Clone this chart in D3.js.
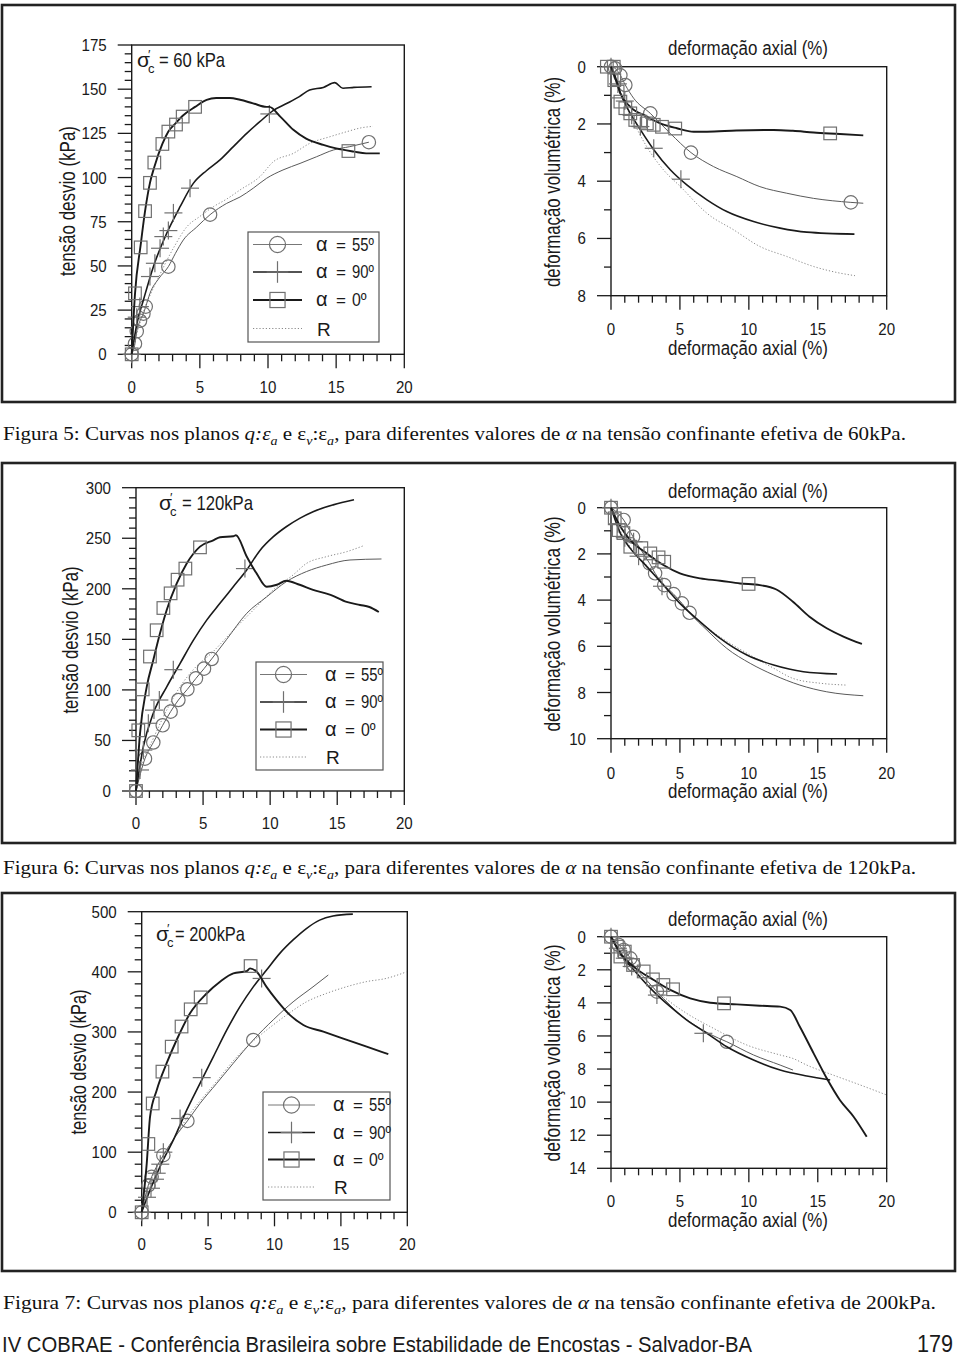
<!DOCTYPE html>
<html><head><meta charset="utf-8">
<script src="https://cdn.jsdelivr.net/npm/d3@7"></script>
<style>body{margin:0;background:#fff}svg{display:block}</style>
</head><body>
<script>
// ---------------- DATA ----------------
const xTickLabels = [0, 5, 10, 15, 20];
const legendLabels = ["55º", "90º", "0º"];
const sigmaLabels = ["= 60 kPa", "= 120kPa", "= 200kPa"];
const figNumbers = ["5", "6", "7"];
const captionPressures = ["60kPa.", "120kPa.", "200kPa."];

// Figure 5 – q : εa
const f5q_a0 = [[0,0],[0.24,34],[0.66,62],[0.98,81],[1.34,97],[1.66,106],[2.25,119],[2.69,126],[3.25,131],[3.74,135],[4.65,140],[5.5,144],[6.2,145],[7.2,145],[7.95,144],[8.9,142],[9.9,140],[10.1,140],[10.9,134.5],[11.86,127],[12.8,122],[14.06,118.5],[15.0,116.5],[16.3,114.7],[17.2,113.7],[18.2,113.7]];
const f5q_a0_mk = [[0,0],[0.24,34.5],[0.66,60.5],[0.98,81],[1.34,97],[1.66,108.5],[2.25,119],[2.69,126],[3.25,130],[3.74,134.5],[4.65,140],[15.9,115]];
const f5q_a90 = [[0,0],[0.4,18],[0.86,30.7],[1.59,49.6],[2.57,68.5],[3.55,83.5],[4.52,96.7],[5.5,104],[6.48,110],[7.46,117.5],[8.44,125],[9.4,131.6],[10.4,138],[11.4,142],[12.3,145.8],[13.05,149.5],[14.06,151],[14.9,153.7],[15.5,150.5],[16.3,151],[17.6,151.4]];
const f5q_a90_mk = [[0,0],[0.37,21],[0.6,27],[1.34,44],[1.7,51.5],[2.08,60],[2.32,66.6],[2.69,70],[3.06,80],[4.28,94],[10.1,136]];
const f5q_a55 = [[0,0],[0.24,6],[0.37,13],[0.61,19],[0.86,23],[1.03,27],[1.34,34.5],[2.0,43],[2.69,49.6],[3.2,57],[3.79,64.7],[4.77,72],[5.75,79],[6.97,85.4],[7.95,89],[8.92,94],[9.9,99.6],[11.1,104.3],[12.35,108],[13.57,111.8],[14.8,115.6],[16.0,117.5],[17.4,120]];
const f5q_a55_mk = [[0,0],[0.24,6],[0.37,13],[0.61,19],[0.86,23],[1.03,27],[2.69,49.6],[5.75,79],[17.4,120]];
const f5q_R = [[0,0],[0.5,15],[1.0,27],[1.5,36],[2.0,44],[2.57,53],[3.2,62],[4.03,72],[5.0,78],[5.99,83.5],[7.0,88],[7.95,93],[9.4,100.5],[10.4,109],[11.86,113.7],[13.08,119.4],[14.5,123],[15.8,126],[16.75,128],[17.7,129]];

// Figure 5 – εv : εa
const f5v_a0 = [[0,0],[0.3,0.35],[0.68,0.93],[1.4,1.4],[2.6,1.74],[3.57,1.98],[4.78,2.15],[6.0,2.27],[6.96,2.27],[9.1,2.23],[11.8,2.21],[13.2,2.24],[14.7,2.3],[16.6,2.35],[18.3,2.4]];
const f5v_a0_mk = [[-0.3,0],[0.2,0],[0.24,0.47],[0.48,0.87],[0.68,1.22],[1.04,1.45],[1.4,1.63],[1.76,1.86],[2.13,1.92],[2.6,1.98],[3.1,2.03],[3.7,2.1],[4.66,2.16],[15.9,2.33]];
const f5v_a55 = [[0,0],[0.3,0.06],[0.68,0.3],[1.04,0.64],[1.64,1.1],[2.85,1.63],[4.3,2.33],[5.8,3.0],[7.44,3.49],[9.13,3.84],[10.8,4.19],[12.75,4.42],[14.7,4.6],[17.4,4.74],[18.3,4.77]];
const f5v_a55_mk = [[0,0],[0.3,0.06],[0.68,0.3],[1.04,0.64],[2.85,1.63],[5.8,3.0],[17.4,4.74]];
const f5v_a90 = [[0,0],[0.3,0.4],[0.68,0.93],[1.4,1.63],[2.13,2.2],[3.1,2.9],[4.3,3.6],[5.5,4.13],[6.96,4.65],[8.4,5.06],[10.34,5.41],[12.27,5.64],[14.2,5.78],[17.66,5.85]];
const f5v_a90_mk = [[0,0],[0.5,0.6],[1.0,1.2],[1.5,1.7],[2.13,2.09],[3.1,2.85],[5.07,3.93]];
const f5v_R = [[0,0],[0.68,0.95],[1.4,1.7],[2.6,2.8],[3.8,3.6],[5.27,4.3],[5.5,4.42],[6.96,5.12],[8.9,5.7],[10.8,6.28],[12.75,6.63],[14.7,6.98],[16.6,7.21],[17.7,7.3]];

// Figure 6 – q : εa
const f6q_a0 = [[0,0],[0.3,57],[0.8,103],[1.29,129.6],[1.79,156],[2.29,179],[3.03,205],[3.78,225],[4.77,241.7],[5.76,248],[6.26,251],[7.25,252],[7.45,253],[8.25,232],[9.0,215],[9.74,202],[10.5,204],[11.2,208],[12.2,204],[13.2,199],[14.5,194],[15.7,187],[16.7,184],[17.4,182],[18.1,177]];
const f6q_a0_mk = [[0,0],[0.17,60],[0.5,100.5],[1.04,133],[1.54,159],[2.04,181],[2.58,195.5],[3.1,209],[3.68,220],[4.77,241]];
const f6q_a90 = [[0,0],[0.55,44],[1.29,77],[2.29,103],[3.28,126],[4.27,149],[5.27,169],[6.26,185.6],[7.25,202],[8.25,218.6],[9.24,238],[10.24,251.6],[11.2,261.4],[12.2,269.7],[13.2,276.3],[14.7,283],[16.25,288]];
const f6q_a90_mk = [[0,0],[0.3,20.8],[0.55,40.5],[0.92,67],[1.34,80],[1.74,90],[2.78,120],[8.12,220]];
const f6q_a55 = [[0,0],[0.67,32],[1.29,48],[1.99,65],[2.58,78.5],[3.16,90],[3.83,100.6],[4.47,111.4],[5.07,121],[5.64,130.6],[6.76,150],[8.25,175.7],[9.74,192],[11.2,207],[12.7,217],[14.2,223.5],[15.95,228.5],[18.3,229.5]];
const f6q_a55_mk = [[0,0],[0.67,32],[1.29,48],[1.99,65],[2.58,78.5],[3.16,90],[3.83,100.6],[4.47,111.4],[5.07,121],[5.64,130.6]];
const f6q_R = [[0,0],[0.5,28],[1.29,52],[2.29,80],[3.28,103],[4.27,120],[5.76,138],[7.25,159],[8.75,179],[10.24,199],[11.7,213.6],[12.7,225],[14.2,231.8],[15.7,236.7],[16.9,242.3]];

// Figure 6 – εv : εa
const f6v_a0 = [[0,0],[0.68,0.82],[1.4,1.4],[2.6,1.98],[3.8,2.48],[5.0,2.84],[6.47,3.06],[7.92,3.16],[9.37,3.28],[10.8,3.35],[12.0,3.54],[13.2,4.07],[14.4,4.72],[15.65,5.22],[16.86,5.58],[18.2,5.9]];
const f6v_a0_mk = [[0,0],[0.27,0.46],[0.56,0.97],[0.9,1.1],[1.4,1.69],[2.2,1.75],[2.85,1.98],[3.45,2.15],[3.86,2.34],[9.98,3.3]];
const f6v_a55 = [[0,0],[0.92,0.53],[1.6,1.26],[2.2,1.85],[2.8,2.41],[3.2,2.84],[3.86,3.35],[4.54,3.74],[5.14,4.14],[5.7,4.55],[6.96,5.3],[8.4,6.09],[10.1,6.74],[11.8,7.24],[13.7,7.68],[15.65,7.97],[18.3,8.14]];
const f6v_a55_mk = [[0,0],[0.92,0.53],[1.6,1.26],[2.8,2.41],[3.2,2.84],[3.86,3.35],[4.54,3.74],[5.14,4.14],[5.7,4.55]];
const f6v_a90 = [[0,0],[0.68,1.11],[1.4,1.76],[2.6,2.55],[3.8,3.35],[5.0,4.14],[6.47,4.94],[7.92,5.66],[9.86,6.38],[11.8,6.81],[13.96,7.1],[16.4,7.2]];
const f6v_a90_mk = [[0,0],[0.5,0.7],[1.0,1.3],[1.64,1.47],[2.0,2.1],[3.7,3.4]];
const f6v_R = [[0,0],[0.68,1.0],[1.4,1.7],[2.6,2.5],[3.8,3.3],[5.0,4.05],[6.0,4.7],[7.92,5.6],[9.86,6.3],[11.8,6.95],[13.2,7.39],[15.2,7.6],[17.1,7.68]];

// Figure 7 – q : εa
const f7q_a0 = [[0,0],[0.38,81.5],[0.63,159],[1.13,203],[1.88,248],[2.63,286.6],[3.64,331],[4.89,364],[5.9,383.6],[6.9,397.5],[7.9,401],[8.16,405.8],[8.66,400],[9.4,375],[10.16,353],[11.17,328],[12.17,311.5],[13.68,300.4],[15.18,289],[16.94,275.5],[18.57,263]];
const f7q_a0_mk = [[0,0],[0.5,113.6],[0.83,181],[1.56,234],[2.26,275.5],[3.0,309],[3.69,337.6],[4.44,357.5],[8.2,409.6]];
const f7q_a90 = [[0,0],[0.63,37],[1.38,76],[2.38,120],[3.39,170],[4.39,214.5],[5.4,259],[6.4,303],[7.4,342],[8.4,375],[9.4,403],[10.4,430.7],[11.4,453],[12.4,472],[13.4,486],[14.4,492.8],[15.9,496]];
const f7q_a90_mk = [[0,0],[0.4,25],[0.7,40],[1.0,55],[1.13,65],[1.4,80],[1.63,100],[2.89,156],[4.52,224],[9.03,389]];
const f7q_a55 = [[0,0],[0.5,45],[0.75,59],[1.63,95],[2.5,125],[3.44,152],[4.39,181],[5.65,214.5],[6.9,248],[8.4,286.6],[9.9,320],[11.4,350],[12.9,375],[14.05,394.7]];
const f7q_a55_mk = [[0,0],[0.5,45],[0.75,59],[1.63,95],[3.44,152],[8.4,286.6]];
const f7q_R = [[0,0],[0.75,55],[1.63,95],[2.38,120],[3.44,158],[4.39,185],[5.65,218],[6.9,252],[8.4,285],[9.4,303],[10.9,328],[12.4,350],[13.9,364],[15.4,375],[16.9,383.6],[18.4,389],[19.95,400]];

// Figure 7 – εv : εa
const f7v_a0 = [[0,0],[0.68,1.0],[1.64,1.81],[3.1,2.62],[4.3,3.22],[5.75,3.73],[7.2,3.99],[9.13,4.09],[10.8,4.17],[12.27,4.23],[13.0,4.43],[13.7,5.44],[14.7,7.05],[15.65,8.56],[16.6,9.87],[17.6,10.88],[18.55,12.09]];
const f7v_a0_mk = [[0,0],[0.43,0.6],[0.68,1.2],[1.0,0.9],[1.6,1.71],[2.37,2.1],[3.04,2.58],[3.8,2.92],[4.5,3.18],[8.2,4.03]];
const f7v_a55 = [[0,0],[0.56,0.5],[0.92,0.8],[1.4,1.31],[1.64,1.71],[2.5,2.55],[3.33,3.32],[4.3,4.15],[5.0,4.7],[6.0,5.3],[7.2,5.9],[8.4,6.35],[10.34,7.15],[12.27,7.76],[13.2,8.06]];
const f7v_a55_mk = [[0,0],[0.56,0.5],[0.92,0.8],[1.4,1.31],[1.64,1.71],[3.33,3.32],[8.4,6.35]];
const f7v_a90 = [[0,0],[0.68,1.0],[1.88,2.22],[3.1,3.32],[4.3,4.23],[5.5,5.04],[6.96,5.84],[8.4,6.65],[10.34,7.45],[12.27,8.06],[14.2,8.42],[15.9,8.66]];
const f7v_a90_mk = [[0,0],[0.5,0.7],[1.0,1.3],[1.5,1.8],[3.33,3.53],[6.7,5.84]];
const f7v_R = [[0,0],[0.68,0.9],[1.88,2.1],[3.1,3.1],[4.3,3.95],[5.5,4.64],[7.44,5.54],[9.86,6.55],[12.27,7.15],[13.2,7.36],[14.2,7.76],[16.1,8.36],[18.07,8.96],[20,9.57]];

// --------------- DRAWING ---------------
const W = 960, H = 1358;
const SANS = "'Liberation Sans', Arial, sans-serif";
const SERIF = "'Liberation Serif', 'Times New Roman', serif";
const svg = d3.select("body").append("svg").attr("width", W).attr("height", H);
svg.append("rect").attr("width", W).attr("height", H).attr("fill", "#fff");

const STY = {
  a0:  {stroke: "#1a1a1a", width: 1.9, dash: null},
  a90: {stroke: "#1a1a1a", width: 1.6, dash: null},
  a55: {stroke: "#5a5a5a", width: 1.0, dash: null},
  R:   {stroke: "#8a8a8a", width: 1.0, dash: "1.2,2"}
};
const MK = "#707070";

function drawMarker(g, type, x, y, s) {
  if (type === "circle") {
    g.append("circle").attr("cx", x).attr("cy", y).attr("r", 6.7 * s)
      .attr("fill", "none").attr("stroke", MK).attr("stroke-width", 1.2);
  } else if (type === "square") {
    const h = 6.3 * s;
    g.append("rect").attr("x", x - h).attr("y", y - h).attr("width", 2 * h).attr("height", 2 * h)
      .attr("fill", "none").attr("stroke", MK).attr("stroke-width", 1.2);
  } else if (type === "plus") {
    const h = 9 * s;
    g.append("line").attr("x1", x - h).attr("x2", x + h).attr("y1", y).attr("y2", y)
      .attr("stroke", MK).attr("stroke-width", 1.2);
    g.append("line").attr("x1", x).attr("x2", x).attr("y1", y - h).attr("y2", y + h)
      .attr("stroke", MK).attr("stroke-width", 1.2);
  }
}

function fitText(g, txt, x, y, size, len, opts = {}) {
  const t = g.append("text").attr("x", x).attr("y", y).attr("font-family", opts.family || SANS)
    .attr("font-size", size).attr("fill", "#1a1a1a").text(txt);
  if (opts.anchor) t.attr("text-anchor", opts.anchor);
  if (len) t.attr("textLength", len).attr("lengthAdjust", "spacingAndGlyphs");
  if (opts.rotate) t.attr("transform", `rotate(-90,${x},${y})`);
  return t;
}

function tickText(g, v, x, y, anchor) {
  const s = String(v);
  g.append("text").attr("x", x).attr("y", y).attr("text-anchor", anchor)
    .attr("font-family", SANS).attr("font-size", 17).attr("fill", "#1a1a1a")
    .attr("textLength", s.length * 8.4).attr("lengthAdjust", "spacingAndGlyphs").text(s);
}

function panel(cfg) {
  const g = svg.append("g");
  const xs = d3.scaleLinear().domain([0, 20]).range([cfg.x0, cfg.x1]);
  const ys = cfg.down
    ? d3.scaleLinear().domain([0, cfg.yMax]).range([cfg.top, cfg.bot])
    : d3.scaleLinear().domain([0, cfg.yMax]).range([cfg.bot, cfg.top]);
  const axisY = cfg.bot;

  // frame
  g.append("rect").attr("x", cfg.x0).attr("y", cfg.top).attr("width", cfg.x1 - cfg.x0)
    .attr("height", cfg.bot - cfg.top).attr("fill", "none").attr("stroke", "#1a1a1a").attr("stroke-width", 1.4);

  // x ticks (bottom, outward)
  d3.range(0, 20.001, 1).forEach(v => {
    const major = v % 5 === 0;
    g.append("line").attr("x1", xs(v)).attr("x2", xs(v)).attr("y1", axisY).attr("y2", axisY + (major ? 14 : 7))
      .attr("stroke", "#1a1a1a").attr("stroke-width", 1.3);
  });
  xTickLabels.forEach(v => tickText(g, v, xs(v), cfg.bot + cfg.xLabOff, "middle"));
  // y ticks (left, outward)
  d3.range(0, cfg.yMax + 1e-6, cfg.yMinor).forEach(v => {
    const major = Math.abs(v / cfg.yMajor - Math.round(v / cfg.yMajor)) < 1e-6;
    g.append("line").attr("x1", cfg.x0).attr("x2", cfg.x0 - (major ? 14 : 7)).attr("y1", ys(v)).attr("y2", ys(v))
      .attr("stroke", "#1a1a1a").attr("stroke-width", 1.3);
    if (major) tickText(g, v, cfg.x0 - 25, ys(v) + 6, "end");
  });

  // titles
  fitText(g, cfg.yTitle, cfg.yTitleX, cfg.yTitleY, 22, cfg.yTitleLen, {anchor: "middle", rotate: true});
  if (cfg.xTitles) {
    cfg.xTitles.forEach(yy => fitText(g, "deformação axial (%)", 748, yy, 20, 160, {anchor: "middle"}));
  }

  // series
  const line = d3.line().x(d => xs(d[0])).y(d => ys(d[1])).curve(d3.curveMonotoneX);
  const order = ["R", "a55", "a90", "a0"];
  order.forEach(k => {
    const s = cfg.series[k];
    const st = STY[k];
    const p = g.append("path").attr("d", line(s.line)).attr("fill", "none")
      .attr("stroke", st.stroke).attr("stroke-width", st.width).attr("stroke-linejoin", "round");
    if (st.dash) p.attr("stroke-dasharray", st.dash);
    if (s.mk) s.mk.forEach(d => drawMarker(g, s.type, xs(d[0]), ys(d[1]), 1));
  });

  // sigma label (separate pieces: σ, prime, subscript c, value)
  if (cfg.sigma) {
    const S = cfg.sigma;
    g.append("text").attr("x", S.x).attr("y", S.y).attr("font-family", SANS).attr("font-size", 21)
      .attr("fill", "#1a1a1a").text("σ");
    g.append("text").attr("x", S.x + 11).attr("y", S.y - 8).attr("font-family", SANS).attr("font-size", 13)
      .attr("fill", "#1a1a1a").text("′");
    g.append("text").attr("x", S.x + 11).attr("y", S.y + 6).attr("font-family", SANS).attr("font-size", 13)
      .attr("fill", "#1a1a1a").text("c");
    fitText(g, S.text, S.vx, S.y, 21, S.len);
  }
  if (cfg.legend) {
    const L = cfg.legend;
    g.append("rect").attr("x", L.x).attr("y", L.y).attr("width", L.w).attr("height", L.h)
      .attr("fill", "#fff").attr("stroke", "#555").attr("stroke-width", 1.2);
    const rows = [["a55", "circle"], ["a90", "plus"], ["a0", "square"], ["R", null]];
    rows.forEach((r, i) => {
      const yy = L.rows[i];
      const st = STY[r[0]];
      const ln = g.append("line").attr("x1", L.lx1).attr("x2", L.lx2).attr("y1", yy).attr("y2", yy)
        .attr("stroke", r[0] === "a55" ? "#777" : st.stroke).attr("stroke-width", st.width);
      if (st.dash) ln.attr("stroke-dasharray", st.dash);
      if (r[1]) drawMarker(g, r[1], (L.lx1 + L.lx2) / 2, yy, 1.2);
      if (i < 3) {
        g.append("text").attr("x", L.tx).attr("y", yy + 6).attr("font-family", SANS).attr("font-size", 20)
          .attr("fill", "#1a1a1a").text("α");
        g.append("text").attr("x", L.tx + 25).attr("y", yy + 6).attr("text-anchor", "middle").attr("font-family", SANS)
          .attr("font-size", 17).attr("fill", "#1a1a1a").text("=");
        g.append("text").attr("x", L.tx + 36).attr("y", yy + 6).attr("font-family", SANS).attr("font-size", 18)
          .attr("fill", "#1a1a1a").attr("textLength", legendLabels[i].length * 7.3)
          .attr("lengthAdjust", "spacingAndGlyphs").text(legendLabels[i]);
      } else {
        g.append("text").attr("x", L.tx + 1).attr("y", yy + 7).attr("font-family", SANS).attr("font-size", 19)
          .attr("fill", "#1a1a1a").text("R");
      }
    });
  }
}

function figure(idx, box, left, right, capY) {
  svg.append("rect").attr("x", box.x).attr("y", box.y).attr("width", box.w).attr("height", box.h)
    .attr("fill", "none").attr("stroke", "#222").attr("stroke-width", 2.6);
  panel(left);
  panel(right);
  // caption
  const t = svg.append("text").attr("x", 3).attr("y", capY).attr("font-family", SERIF).attr("font-size", 19.5)
    .attr("fill", "#111").attr("textLength", box.capLen).attr("lengthAdjust", "spacingAndGlyphs");
  t.append("tspan").text(`Figura ${figNumbers[idx]}: Curvas nos planos `);
  t.append("tspan").attr("font-style", "italic").text("q:ε");
  t.append("tspan").attr("font-style", "italic").attr("font-size", 13).attr("dy", 5).text("a");
  t.append("tspan").attr("dy", -5).text(" e ε");
  t.append("tspan").attr("font-style", "italic").attr("font-size", 13).attr("dy", 5).text("v");
  t.append("tspan").attr("dy", -5).text(":ε");
  t.append("tspan").attr("font-style", "italic").attr("font-size", 13).attr("dy", 5).text("a");
  t.append("tspan").attr("dy", -5).text(", para diferentes valores de ");
  t.append("tspan").attr("font-style", "italic").text("α");
  t.append("tspan").text(` na tensão confinante efetiva de ${captionPressures[idx]}`);
}

// Figure 5
figure(0, {x: 2, y: 5, w: 953, h: 397, capLen: 903},
  {x0: 131.7, x1: 404.3, top: 45, bot: 354.3, yMax: 175, yMajor: 25, yMinor: 5, xLabOff: 39,
   yTitle: "tensão desvio (kPa)", yTitleX: 75, yTitleY: 201, yTitleLen: 150,
   series: {a0: {line: f5q_a0, mk: f5q_a0_mk, type: "square"}, a90: {line: f5q_a90, mk: f5q_a90_mk, type: "plus"},
            a55: {line: f5q_a55, mk: f5q_a55_mk, type: "circle"}, R: {line: f5q_R}},
   sigma: {x: 137, y: 67, vx: 159, text: sigmaLabels[0], len: 66},
   legend: {x: 248, y: 232, w: 131, h: 110, rows: [244.5, 272, 300, 328.5], lx1: 253, lx2: 302, tx: 316}},
  {x0: 611, x1: 886.7, top: 66.7, bot: 295.7, yMax: 8, yMajor: 2, yMinor: 1, down: true, xLabOff: 39,
   yTitle: "deformação volumétrica (%)", yTitleX: 560, yTitleY: 182, yTitleLen: 210, xTitles: [55, 355],
   series: {a0: {line: f5v_a0, mk: f5v_a0_mk, type: "square"}, a90: {line: f5v_a90, mk: f5v_a90_mk, type: "plus"},
            a55: {line: f5v_a55, mk: f5v_a55_mk, type: "circle"}, R: {line: f5v_R}}},
  440);

// Figure 6
figure(1, {x: 2, y: 463, w: 953, h: 380, capLen: 913},
  {x0: 136, x1: 404.3, top: 487.7, bot: 791, yMax: 300, yMajor: 50, yMinor: 10, xLabOff: 38,
   yTitle: "tensão desvio (kPa)", yTitleX: 78, yTitleY: 640, yTitleLen: 147,
   series: {a0: {line: f6q_a0, mk: f6q_a0_mk, type: "square"}, a90: {line: f6q_a90, mk: f6q_a90_mk, type: "plus"},
            a55: {line: f6q_a55, mk: f6q_a55_mk, type: "circle"}, R: {line: f6q_R}},
   sigma: {x: 159, y: 510, vx: 182, text: sigmaLabels[1], len: 71},
   legend: {x: 256, y: 662, w: 127, h: 108, rows: [674.5, 702, 729.5, 757], lx1: 260, lx2: 307, tx: 325}},
  {x0: 611, x1: 886.7, top: 507.7, bot: 738.7, yMax: 10, yMajor: 2, yMinor: 1, down: true, xLabOff: 40,
   yTitle: "deformação volumétrica (%)", yTitleX: 560, yTitleY: 624, yTitleLen: 215, xTitles: [498, 798],
   series: {a0: {line: f6v_a0, mk: f6v_a0_mk, type: "square"}, a90: {line: f6v_a90, mk: f6v_a90_mk, type: "plus"},
            a55: {line: f6v_a55, mk: f6v_a55_mk, type: "circle"}, R: {line: f6v_R}}},
  874);

// Figure 7
figure(2, {x: 2, y: 893, w: 953, h: 378, capLen: 933},
  {x0: 141.7, x1: 407.3, top: 911.7, bot: 1212.3, yMax: 500, yMajor: 100, yMinor: 20, xLabOff: 38,
   yTitle: "tensão desvio (kPa)", yTitleX: 86, yTitleY: 1062, yTitleLen: 145,
   series: {a0: {line: f7q_a0, mk: f7q_a0_mk, type: "square"}, a90: {line: f7q_a90, mk: f7q_a90_mk, type: "plus"},
            a55: {line: f7q_a55, mk: f7q_a55_mk, type: "circle"}, R: {line: f7q_R}},
   sigma: {x: 156, y: 941, vx: 175, text: sigmaLabels[2], len: 70},
   legend: {x: 263, y: 1092, w: 127, h: 108, rows: [1105, 1132.5, 1159.5, 1187], lx1: 268, lx2: 315, tx: 333}},
  {x0: 611, x1: 886.7, top: 936.7, bot: 1168.3, yMax: 14, yMajor: 2, yMinor: 1, down: true, xLabOff: 39,
   yTitle: "deformação volumétrica (%)", yTitleX: 560, yTitleY: 1053, yTitleLen: 217, xTitles: [926, 1227],
   series: {a0: {line: f7v_a0, mk: f7v_a0_mk, type: "square"}, a90: {line: f7v_a90, mk: f7v_a90_mk, type: "plus"},
            a55: {line: f7v_a55, mk: f7v_a55_mk, type: "circle"}, R: {line: f7v_R}}},
  1309);

// footer
fitText(svg, "IV COBRAE - Conferência Brasileira sobre Estabilidade de Encostas - Salvador-BA", 2, 1352, 22, 750);
fitText(svg, "179", 953, 1352, 23, 36, {anchor: "end"});
</script>
</body></html>
